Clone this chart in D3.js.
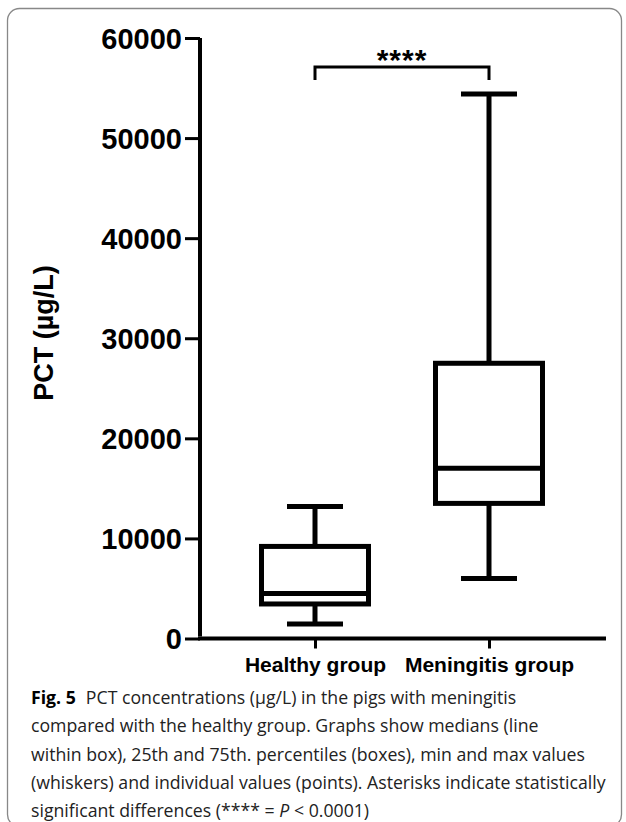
<!DOCTYPE html>
<html>
<head>
<meta charset="utf-8">
<script src="https://cdn.jsdelivr.net/npm/d3@7"></script>
<style>
  body { margin: 0; background: #fff; }
  svg { display: block; }
</style>
</head>
<body>
<script>
// Data (PCT, µg/L)
var groups = ["Healthy group", "Meningitis group"];
var mins    = [1450, 6000];
var q1s     = [3450, 13500];
var medians = [4500, 17000];
var q3s     = [9200, 27500];
var maxs    = [13200, 54400];
var yTicks  = [0, 10000, 20000, 30000, 40000, 50000, 60000];
var sigLabel = "****";
var captionLines = [
    "PCT concentrations (µg/L) in the pigs with meningitis",
    "compared with the healthy group. Graphs show medians (line",
    "within box), 25th and 75th. percentiles (boxes), min and max values",
    "(whiskers) and individual values (points). Asterisks indicate statistically",
    "significant differences (**** = |P| < 0.0001)"
];

var width = 626,
    height = 822;

var svg = d3.select("body")
    .append("svg")
    .attr("width", width)
    .attr("height", height);

// Frame round the figure
svg.append("rect")
    .attr("x", 7.5)
    .attr("y", 8.5)
    .attr("width", 614)
    .attr("height", 818)
    .attr("rx", 12)
    .attr("fill", "none")
    .attr("stroke", "#888")
    .attr("stroke-width", 1.3);

// Scales
var y = d3.scaleLinear()
    .domain([0, 60000])
    .range([638.5, 38]);

var x = d3.scalePoint()
    .domain(groups)
    .range([315, 489]);

var font = "Liberation Sans, Arial, sans-serif";
var g = svg.append("g");

// Y axis
var yAxis = g.append("g")
    .attr("transform", "translate(200,0)")
    .call(d3.axisLeft(y).tickValues(yTicks).tickSize(15).tickSizeOuter(0).tickPadding(3).tickFormat(d3.format("d")));
yAxis.select(".domain").attr("d", "M0,636.5V38").attr("stroke-width", 4);
yAxis.selectAll(".tick line").attr("stroke-width", 3);
yAxis.selectAll("text")
    .attr("font-family", font)
    .attr("font-weight", "bold")
    .attr("font-size", 29)
    .attr("fill", "#000")
    .attr("dy", "0.36em");

// X axis
var xAxis = g.append("g")
    .attr("transform", "translate(0,638.5)")
    .call(d3.axisBottom(x).tickSize(10).tickSizeOuter(0).tickPadding(10));
xAxis.select(".domain").attr("d", "M198,0H606").attr("stroke-width", 4);
xAxis.selectAll(".tick line").attr("stroke-width", 3);
xAxis.selectAll("text")
    .attr("font-family", font)
    .attr("font-weight", "bold")
    .attr("font-size", 21)
    .attr("fill", "#000")
    .attr("dy", null)
    .attr("y", 33.5);

// Y axis title
g.append("text")
    .attr("transform", "translate(53,333) rotate(-90)")
    .attr("text-anchor", "middle")
    .attr("font-family", font)
    .attr("font-weight", "bold")
    .attr("font-size", 27)
    .text("PCT (µg/L)");

// Box plots
var boxW = 112, capW = 56, sw = 5;
var boxes = g.selectAll(".box")
    .data(groups)
    .enter().append("g")
    .attr("class", "box");

// upper and lower whiskers
boxes.append("line")
    .attr("x1", function(d) { return x(d); })
    .attr("x2", function(d) { return x(d); })
    .attr("y1", function(d, i) { return y(maxs[i]); })
    .attr("y2", function(d, i) { return y(q3s[i]); })
    .attr("stroke", "#000").attr("stroke-width", sw);

boxes.append("line")
    .attr("x1", function(d) { return x(d); })
    .attr("x2", function(d) { return x(d); })
    .attr("y1", function(d, i) { return y(q1s[i]); })
    .attr("y2", function(d, i) { return y(mins[i]); })
    .attr("stroke", "#000").attr("stroke-width", sw);

// whisker caps
boxes.append("line")
    .attr("x1", function(d) { return x(d) - capW / 2; })
    .attr("x2", function(d) { return x(d) + capW / 2; })
    .attr("y1", function(d, i) { return y(maxs[i]); })
    .attr("y2", function(d, i) { return y(maxs[i]); })
    .attr("stroke", "#000").attr("stroke-width", sw);

boxes.append("line")
    .attr("x1", function(d) { return x(d) - capW / 2; })
    .attr("x2", function(d) { return x(d) + capW / 2; })
    .attr("y1", function(d, i) { return y(mins[i]); })
    .attr("y2", function(d, i) { return y(mins[i]); })
    .attr("stroke", "#000").attr("stroke-width", sw);

// boxes
boxes.append("rect")
    .attr("x", function(d) { return x(d) - boxW / 2 + sw / 2; })
    .attr("width", boxW - sw)
    .attr("y", function(d, i) { return y(q3s[i]); })
    .attr("height", function(d, i) { return y(q1s[i]) - y(q3s[i]); })
    .attr("fill", "#fff")
    .attr("stroke", "#000").attr("stroke-width", sw);

// medians
boxes.append("line")
    .attr("x1", function(d) { return x(d) - boxW / 2 + sw / 2; })
    .attr("x2", function(d) { return x(d) + boxW / 2 - sw / 2; })
    .attr("y1", function(d, i) { return y(medians[i]); })
    .attr("y2", function(d, i) { return y(medians[i]); })
    .attr("stroke", "#000").attr("stroke-width", sw);

// Significance bracket
var bracketY = y(57100), legY = y(55800);
g.append("path")
    .attr("d", "M" + x(groups[0]) + "," + legY + "V" + bracketY + "H" + x(groups[1]) + "V" + legY)
    .attr("fill", "none")
    .attr("stroke", "#000")
    .attr("stroke-width", 3);

g.append("text")
    .attr("x", (x(groups[0]) + x(groups[1])) / 2)
    .attr("y", bracketY + 3)
    .attr("text-anchor", "middle")
    .attr("font-family", font)
    .attr("font-weight", "bold")
    .attr("font-size", 30)
    .attr("letter-spacing", 1)
    .text(sigLabel);

// Caption ("|...|" marks the italic part)
var capX = 31;
var cap = svg.append("g")
    .attr("font-family", "Open Sans, Noto Sans, sans-serif")
    .attr("font-size", 17.7)
    .attr("fill", "#222");

cap.selectAll("text")
    .data(captionLines)
    .enter().append("text")
    .attr("x", capX)
    .attr("y", function(d, i) { return 704 + i * 28.3; })
    .each(function(d, i) {
        var t = d3.select(this);
        if (i === 0) {
            t.append("tspan").attr("font-weight", "bold").attr("fill", "#000").text("Fig. 5");
            t.append("tspan").attr("dx", 10).text(d);
        } else {
            d.split("|").forEach(function(part, k) {
                t.append("tspan")
                    .attr("font-style", k % 2 ? "italic" : null)
                    .text(part);
            });
        }
    });
</script>
</body>
</html>
